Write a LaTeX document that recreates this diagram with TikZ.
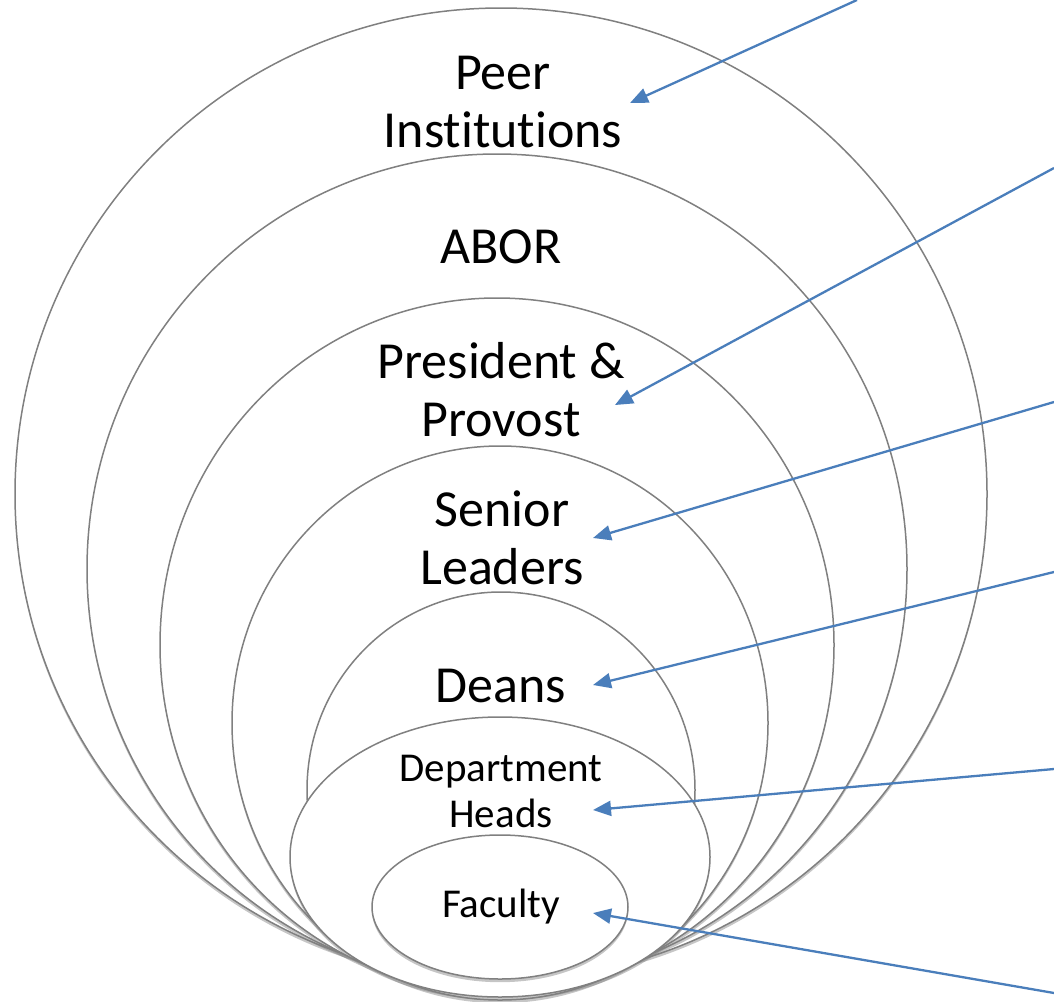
\documentclass[tikz,border=0pt]{standalone}
\usepackage{fontspec}
\setmainfont{Carlito}[Ligatures=NoCommon]
\usetikzlibrary{arrows.meta}
\usetikzlibrary{shadows}

\definecolor{arrowblue}{HTML}{4A7EBB}

\tikzset{
    ring/.style={fill=white, draw=black!50, line width=0.75pt,
        drop shadow={shadow xshift=0pt, shadow yshift=-1.6pt, opacity=0.45}},
    label big/.style={align=center, inner sep=0pt, font=\fontsize{26}{29}\selectfont},
    label small/.style={align=center, inner sep=0pt, font=\fontsize{20.5}{23}\selectfont},
    pointer/.style={draw=arrowblue, line width=1.15pt, -{Triangle[length=9pt,width=7.5pt]}}
}

\begin{document}
\begin{tikzpicture}[x=0.5pt, y=-0.5pt]
    % Canvas, one unit per pixel of the picture
    \useasboundingbox (0,0) rectangle (1054,1001);

    % Draw the nested rings, outermost first
    \draw[ring] (501,494) ellipse (486 and 486);   % peer institutions
    \draw[ring] (497,569) ellipse (410 and 415);   % ABOR
    \draw[ring] (497,645) ellipse (337 and 347);   % president
    \draw[ring] (500,723) ellipse (268 and 277);   % senior leaders
    \draw[ring] (501,790) ellipse (194 and 198);   % deans
    \draw[ring] (500,857) ellipse (210 and 140);   % department heads
    \draw[ring] (500,907) ellipse (128 and 72);    % faculty

    % Ring labels
    \node[label big] (peer) at (503,102) {Peer\\Institutions};
    \node[label big] (abor) at (501,247) {ABOR};
    \node[label big] (pres) at (501,390) {President \&\\Provost};
    \node[label big] (senior) at (502,538) {Senior\\Leaders};
    \node[label big] (deans) at (501,686) {Deans};
    \node[label small] (heads) at (501,791) {Department\\Heads};
    \node[label small] (faculty) at (501,907) {Faculty};

    % Ends of the pointers
    \coordinate (peer-from) at (857,0);
    \coordinate (peer-to) at (630,103);
    \coordinate (pres-from) at (1054,168);
    \coordinate (pres-to) at (615,405);
    \coordinate (senior-from) at (1054,402);
    \coordinate (senior-to) at (593,538);
    \coordinate (deans-from) at (1054,572);
    \coordinate (deans-to) at (593,685);
    \coordinate (heads-from) at (1054,769);
    \coordinate (heads-to) at (593,810);
    \coordinate (faculty-from) at (1054,993);
    \coordinate (faculty-to) at (593,913);

    % Draw the pointers
    \draw[pointer] (peer-from) -- (peer-to);
    \draw[pointer] (pres-from) -- (pres-to);
    \draw[pointer] (senior-from) -- (senior-to);
    \draw[pointer] (deans-from) -- (deans-to);
    \draw[pointer] (heads-from) -- (heads-to);
    \draw[pointer] (faculty-from) -- (faculty-to);
\end{tikzpicture}
\end{document}
